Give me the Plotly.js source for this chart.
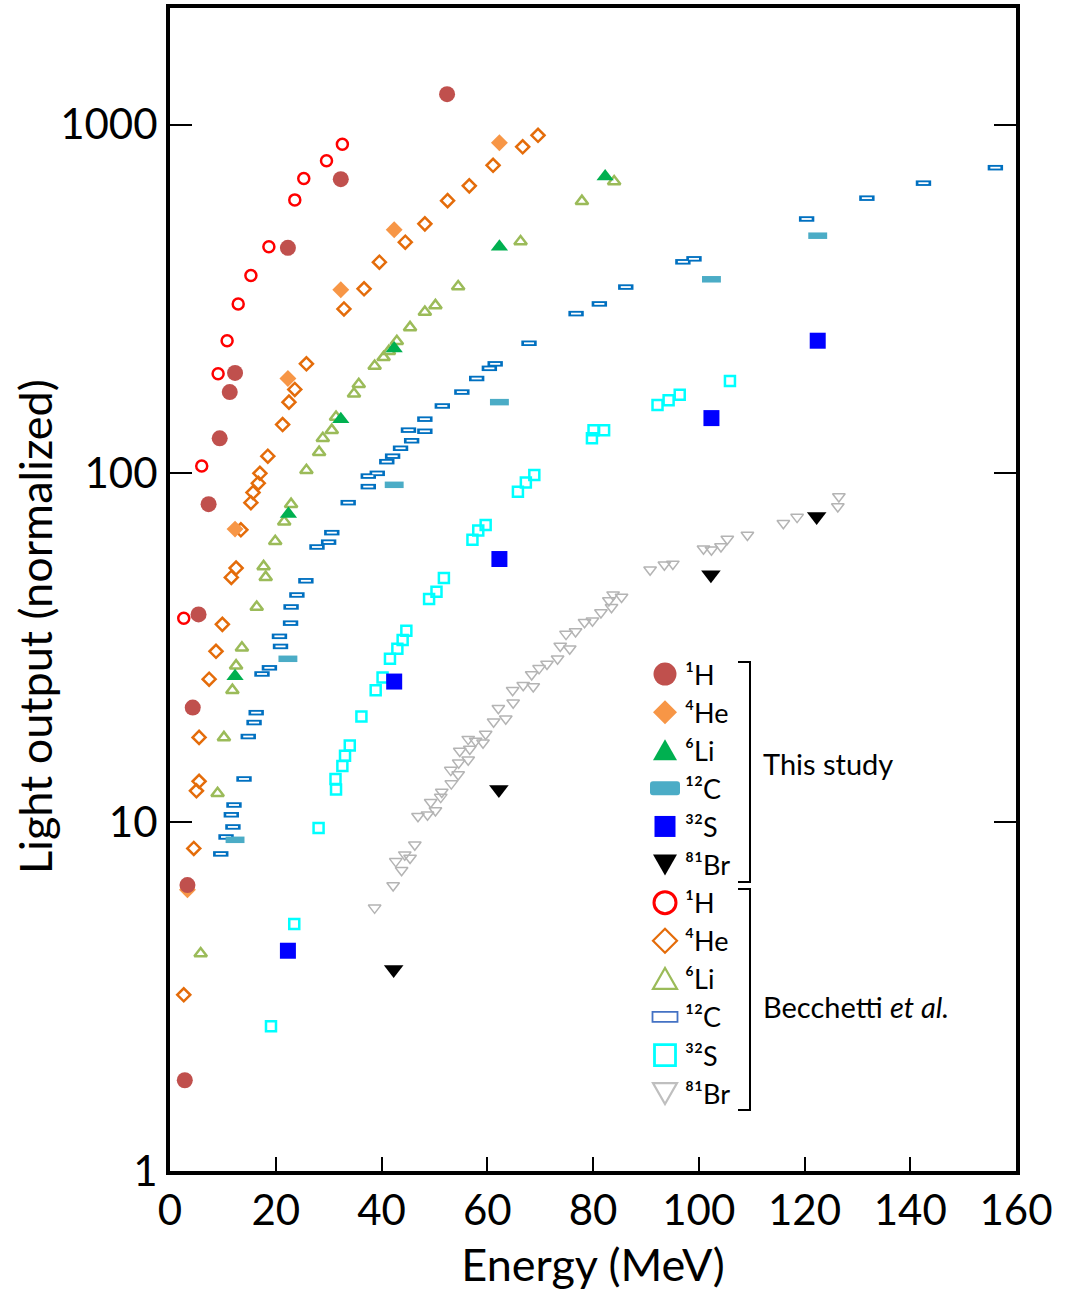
<!DOCTYPE html>
<html>
<head>
<meta charset="utf-8">
<script src="https://cdn.plot.ly/plotly-3.0.1.min.js"></script>
<style>body{margin:0;padding:0;background:#fff;}#chart{width:1071px;height:1291px;}</style>
</head>
<body>
<div id="chart"></div>
<script>
// ---- Data ----
// This study
var h1ThisX = [2.8, 3.3, 4.3, 5.4, 7.3, 9.4, 11.3, 12.3, 22.3, 32.3, 52.4];
var h1ThisY = [1.82, 6.6, 21.3, 39.4, 81.6, 126, 171, 194, 443, 697, 1222];
var he4ThisX = [3.3, 12.3, 22.3, 32.3, 42.4, 62.3];
var he4ThisY = [6.4, 69.2, 187, 336, 499, 887];
var li6ThisX = [12.3, 22.4, 32.3, 42.4, 62.3, 82.3];
var li6ThisY = [26.2, 76.5, 143, 228, 446, 709];
var c12ThisX = [12.3, 22.3, 42.4, 62.3, 102.4, 122.5];
var c12ThisY = [8.9, 29.4, 92.7, 160, 360, 480];
var s32ThisX = [22.3, 42.4, 62.3, 102.4, 122.5];
var s32ThisY = [4.28, 25.3, 56.8, 144, 240];
var br81ThisX = [42.3, 62.2, 102.3, 122.3];
var br81ThisY = [3.78, 12.4, 51.2, 75.2];

// Becchetti et al.
var h1BecX = [2.6, 6.0, 9.1, 10.8, 12.9, 15.3, 18.7, 23.6, 25.3, 29.6, 32.6];
var h1BecY = [38.4, 105, 193, 240, 306, 369, 446, 608, 700, 787, 878];
var he4BecX = [2.6, 4.5, 5.0, 5.5, 5.5, 7.4, 8.7, 9.9, 11.6, 12.5, 13.4, 15.3, 15.7, 16.7, 17.0, 18.5, 21.3, 22.5, 23.6, 25.8, 32.9, 36.7, 39.6, 44.5, 48.2, 52.5, 56.6, 61.1, 66.7, 69.6];
var he4BecY = [3.2, 8.41, 12.3, 13.1, 17.5, 25.7, 30.9, 36.9, 50.3, 53.5, 68.9, 82.4, 88.1, 93.7, 100, 112, 138, 160, 174, 206, 296, 338, 403, 460, 519, 605, 667, 764, 863, 931];
var li6BecX = [5.8, 9.0, 10.2, 11.8, 12.5, 13.6, 16.4, 17.7, 18.1, 19.9, 21.6, 22.9, 25.8, 28.2, 28.9, 30.6, 31.4, 34.8, 35.7, 38.7, 40.4, 41.4, 42.9, 45.4, 48.2, 50.2, 54.5, 66.3, 77.9, 84.0];
var li6BecY = [4.2, 12.1, 17.5, 23.9, 28.1, 31.6, 41.4, 54.1, 50.4, 63.9, 72.6, 81.6, 102, 115, 126, 133, 145, 169, 180, 203, 215, 224, 239, 262, 290, 303, 343, 462, 603, 686];
var c12BecX = [9.6, 10.6, 11.9, 11.6, 12.1, 14.0, 14.8, 15.9, 16.3, 17.4, 18.8, 20.9, 20.7, 22.8, 22.9, 24.0, 25.7, 27.8, 30.0, 30.6, 33.7, 37.5, 37.5, 39.2, 41.0, 42.1, 43.6, 45.7, 45.1, 48.2, 48.2, 51.5, 55.2, 58.0, 60.4, 61.5, 67.9, 76.8, 81.2, 86.2, 97.0, 99.1, 120.4, 131.8, 142.5, 156.1];
var c12BecY = [8.11, 9.07, 9.69, 10.5, 11.2, 13.3, 17.6, 19.3, 20.6, 26.6, 27.7, 31.9, 34.1, 37.2, 41.4, 44.8, 49.2, 61.5, 63.5, 67.6, 82.4, 91.6, 98.2, 100, 108, 112, 118, 124, 133, 132, 143, 156, 171, 187, 200, 206, 236, 287, 306, 342, 404, 412, 536, 615, 679, 752];
var s32BecX = [19.1, 23.5, 28.1, 31.4, 31.3, 32.6, 33.1, 34.0, 36.2, 38.9, 40.2, 41.6, 43.0, 44.0, 44.7, 49.0, 50.4, 51.8, 57.2, 58.3, 59.7, 65.8, 67.3, 68.9, 79.8, 80.1, 82.1, 92.2, 94.3, 96.4, 105.9];
var s32BecY = [2.6, 5.11, 9.62, 12.4, 13.3, 14.5, 15.5, 16.6, 20.1, 23.9, 26.0, 29.4, 31.4, 33.3, 35.4, 43.6, 45.8, 50.1, 64.5, 68.6, 71.1, 88.5, 94.1, 98.9, 126, 133, 133, 157, 162, 168, 184];
var br81BecX = [38.7, 42.2, 42.7, 43.8, 44.4, 45.4, 46.3, 46.9, 48.7, 49.3, 50.2, 51.2, 51.4, 53.2, 53.1, 54.5, 54.6, 54.8, 56.4, 56.7, 56.4, 57.8, 59.2, 59.7, 61.2, 63.5, 62.1, 64.9, 64.8, 66.8, 68.7, 68.4, 69.8, 71.3, 73.3, 75.6, 73.8, 74.9, 76.7, 78.4, 79.9, 81.5, 83.5, 83.0, 83.8, 85.4, 90.8, 93.5, 95.1, 100.9, 102.4, 104.2, 105.4, 109.2, 116.0, 118.6, 126.3, 126.5];
var br81BecY = [5.68, 6.58, 7.72, 7.28, 8.07, 7.89, 8.62, 10.4, 10.5, 11.4, 10.8, 11.8, 12.2, 12.9, 14.1, 13.7, 14.8, 16.0, 15.1, 16.2, 17.3, 17.1, 16.9, 17.9, 19.4, 19.8, 21.2, 22.0, 23.9, 24.7, 24.5, 26.5, 27.6, 28.4, 29.4, 31.4, 32.0, 34.6, 35.2, 37.4, 37.8, 39.9, 41.3, 43.2, 44.9, 44.2, 52.9, 54.7, 55.0, 60.8, 60.4, 61.7, 64.8, 66.6, 71.9, 74.9, 80.3, 85.8];

// Tick labels
var xTickVals = [0, 20, 40, 60, 80, 100, 120, 140, 160];
var yTickVals = [1, 10, 100, 1000];
var yTickText = ['1', '10', '100', '1000'];

// Series names (Unicode superscript mass numbers)
var names = ['\u00B9H', '\u2074He', '\u2076Li', '\u00B9\u00B2C', '\u00B3\u00B2S', '\u2078\u00B9Br'];

// ---- Traces ----
function pts(x, y, name, rank, marker, extra) {
  var t = {type: 'scatter', mode: 'markers', x: x, y: y, name: name, legendrank: rank,
           marker: marker, hoverinfo: 'x+y+name', cliponaxis: false};
  if (extra) for (var k in extra) t[k] = extra[k];
  return t;
}

var traces = [
  // Becchetti (drawn first, underneath)
  pts(br81BecX, br81BecY, names[5], 12, {symbol: 'triangle-down-open', size: 11, color: '#B4B4B4', line: {width: 1.5}}, {meta: 'leg:tri-down-open'}),
  pts(s32BecX, s32BecY, names[4], 11, {symbol: 'square-open', size: 10, color: '#00FFFF', line: {width: 2.5}}, {meta: 'leg:square-open'}),
  pts(c12BecX, c12BecY, names[3], 10, {symbol: 'line-ew-open', size: 11, color: '#0070C0', line: {width: 5.5, color: '#0070C0'}}, {meta: 'leg:rect-open'}),
  pts(c12BecX, c12BecY, names[3], 10, {symbol: 'line-ew-open', size: 7.2, color: '#FFFFFF', line: {width: 1.8, color: '#FFFFFF'}}, {showlegend: false, hoverinfo: 'skip'}),
  pts(li6BecX, li6BecY, names[2], 9, {symbol: 'triangle-up-open', size: 11, color: '#9BBB59', line: {width: 2.5}}, {meta: 'leg:tri-up-open'}),
  pts(he4BecX, he4BecY, names[1], 8, {symbol: 'diamond-open', size: 10, color: '#E46C0A', line: {width: 2.5}}, {meta: 'leg:diamond-open'}),
  pts(h1BecX, h1BecY, names[0], 7, {symbol: 'circle-open', size: 11, color: '#FF0000', line: {width: 2.5}}, {meta: 'leg:circle-open'}),
  // This study (on top)
  pts(br81ThisX, br81ThisY, names[5], 6, {symbol: 'triangle-down', size: 17, color: '#000000'}, {meta: 'leg:tri-down'}),
  pts(s32ThisX, s32ThisY, names[4], 5, {symbol: 'square', size: 16, color: '#0000FF'}, {meta: 'leg:square'}),
  pts(c12ThisX, c12ThisY, names[3], 4, {symbol: 'line-ew-open', size: 13.5, color: '#4BACC6', line: {width: 6.5, color: '#4BACC6'}}, {meta: 'leg:rect'}),
  pts(li6ThisX, li6ThisY, names[2], 3, {symbol: 'triangle-up', size: 15, color: '#00B050'}, {meta: 'leg:tri-up'}),
  pts(he4ThisX, he4ThisY, names[1], 2, {symbol: 'diamond', size: 13, color: '#F79646'}, {meta: 'leg:diamond'}),
  pts(h1ThisX, h1ThisY, names[0], 1, {symbol: 'circle', size: 16, color: '#C0504D'}, {meta: 'leg:circle'})
];

var FONT = 'Lato, "Open Sans", "DejaVu Sans", sans-serif';

function px2x(p) { return (p - 170) / 846; }
function px2y(p) { return (1171 - p) / 1163; }

var bracketLine = {color: '#000000', width: 2};
var shapes = [
  // "This study" bracket
  {type: 'line', xref: 'paper', yref: 'paper', x0: px2x(750), x1: px2x(750), y0: px2y(662), y1: px2y(882), line: bracketLine},
  {type: 'line', xref: 'paper', yref: 'paper', x0: px2x(738), x1: px2x(751), y0: px2y(662), y1: px2y(662), line: bracketLine},
  {type: 'line', xref: 'paper', yref: 'paper', x0: px2x(738), x1: px2x(751), y0: px2y(882), y1: px2y(882), line: bracketLine},
  // "Becchetti et al." bracket
  {type: 'line', xref: 'paper', yref: 'paper', x0: px2x(750), x1: px2x(750), y0: px2y(889), y1: px2y(1110), line: bracketLine},
  {type: 'line', xref: 'paper', yref: 'paper', x0: px2x(738), x1: px2x(751), y0: px2y(889), y1: px2y(889), line: bracketLine},
  {type: 'line', xref: 'paper', yref: 'paper', x0: px2x(738), x1: px2x(751), y0: px2y(1110), y1: px2y(1110), line: bracketLine}
];

var annotations = [
  {xref: 'paper', yref: 'paper', x: px2x(761), y: px2y(763), xanchor: 'left', yanchor: 'middle',
   text: 'This study', showarrow: false, font: {family: FONT, size: 29, color: '#000'}},
  {xref: 'paper', yref: 'paper', x: px2x(761), y: px2y(1006), xanchor: 'left', yanchor: 'middle',
   text: 'Becchetti <i>et al.</i>', showarrow: false, font: {family: FONT, size: 29, color: '#000'}},
  {xref: 'paper', yref: 'paper', x: px2x(35), y: px2y(627), xanchor: 'center', yanchor: 'middle', textangle: -90,
   text: 'Light output (normalized)', showarrow: false, font: {family: FONT, size: 45, color: '#000'}}
];

var layout = {
  width: 1071, height: 1291,
  margin: {l: 170, r: 55, t: 8, b: 120, pad: 0},
  paper_bgcolor: '#FFFFFF', plot_bgcolor: '#FFFFFF',
  font: {family: FONT, color: '#000000'},
  showlegend: true,
  legend: {x: px2x(645), y: px2y(650), xanchor: 'left', yanchor: 'top',
           font: {family: FONT, size: 27, color: '#000'}, bgcolor: 'rgba(0,0,0,0)',
           borderwidth: 0, itemsizing: 'trace', traceorder: 'normal', tracegroupgap: 0},
  xaxis: {
    range: [0, 160], tickmode: 'array', tickvals: xTickVals,
    ticks: 'inside', ticklen: 14, tickwidth: 2, tickcolor: '#000',
    showline: true, linewidth: 4, linecolor: '#000', mirror: true,
    showgrid: false, zeroline: false,
    tickfont: {family: FONT, size: 42, color: '#000'},
    title: {text: 'Energy (MeV)', font: {family: FONT, size: 45, color: '#000'}, standoff: 18}
  },
  yaxis: {
    type: 'log', range: [0, 3.334], tickmode: 'array', tickvals: yTickVals, ticktext: yTickText,
    ticks: 'inside', ticklen: 22, tickwidth: 2, tickcolor: '#000',
    showline: true, linewidth: 4, linecolor: '#000', mirror: 'ticks',
    showgrid: false, zeroline: false,
    tickfont: {family: FONT, size: 42, color: '#000'}
  },
  shapes: shapes,
  annotations: annotations
};

// Enlarge legend keys to match the reference key sizes
var legendKeys = {
  'circle':        {d: 'M11.5,0A11.5,11.5 0 1,1 0,-11.5A11.5,11.5 0 0,1 11.5,0Z', fill: '#C0504D', stroke: 'none', sw: 0},
  'diamond':       {d: 'M12,0L0,12L-12,0L0,-12Z', fill: '#F79646', stroke: 'none', sw: 0},
  'tri-up':        {d: 'M-12,10H12L0,-11Z', fill: '#00B050', stroke: 'none', sw: 0},
  'rect':          {d: 'M-12,-7H12A3,3 0 0 1 15,-4V4A3,3 0 0 1 12,7H-12A3,3 0 0 1 -15,4V-4A3,3 0 0 1 -12,-7Z', fill: '#4BACC6', stroke: 'none', sw: 0},
  'square':        {d: 'M-10.5,-10.5H10.5V10.5H-10.5Z', fill: '#0000FF', stroke: 'none', sw: 0},
  'tri-down':      {d: 'M-12,-10H12L0,11Z', fill: '#000000', stroke: 'none', sw: 0},
  'circle-open':   {d: 'M11,0A11,11 0 1,1 0,-11A11,11 0 0,1 11,0Z', fill: 'none', stroke: '#FF0000', sw: 3},
  'diamond-open':  {d: 'M12,0L0,12L-12,0L0,-12Z', fill: 'none', stroke: '#E46C0A', sw: 2.2},
  'tri-up-open':   {d: 'M-12,10H12L0,-11Z', fill: 'none', stroke: '#9BBB59', sw: 2.2},
  'rect-open':     {d: 'M-12.5,-5H12.5V5H-12.5Z', fill: 'none', stroke: '#4472C4', sw: 1.8},
  'square-open':   {d: 'M-10.5,-10.5H10.5V10.5H-10.5Z', fill: 'none', stroke: '#00FFFF', sw: 2.8},
  'tri-down-open': {d: 'M-12,-10H12L0,11Z', fill: 'none', stroke: '#BFBFBF', sw: 2.2}
};

function restyleLegendKeys(gd) {
  var items = gd.querySelectorAll('.legend .traces');
  for (var i = 0; i < items.length; i++) {
    var el = items[i];
    var d = el.__data__;
    var tr = d && d[0] && d[0].trace;
    if (!tr || typeof tr.meta !== 'string' || tr.meta.indexOf('leg:') !== 0) continue;
    var key = legendKeys[tr.meta.slice(4)];
    var p = el.querySelector('.legendpoints path.scatterpts');
    if (!key || !p) continue;
    p.setAttribute('d', key.d);
    p.style.fill = key.fill;
    p.style.fillOpacity = 1;
    p.style.stroke = key.stroke;
    p.style.strokeWidth = key.sw + 'px';
    p.style.strokeOpacity = 1;
  }
}

var gd = document.getElementById('chart');
Plotly.newPlot(gd, traces, layout, {displayModeBar: false, staticPlot: true}).then(function () {
  restyleLegendKeys(gd);
});
</script>
</body>
</html>
